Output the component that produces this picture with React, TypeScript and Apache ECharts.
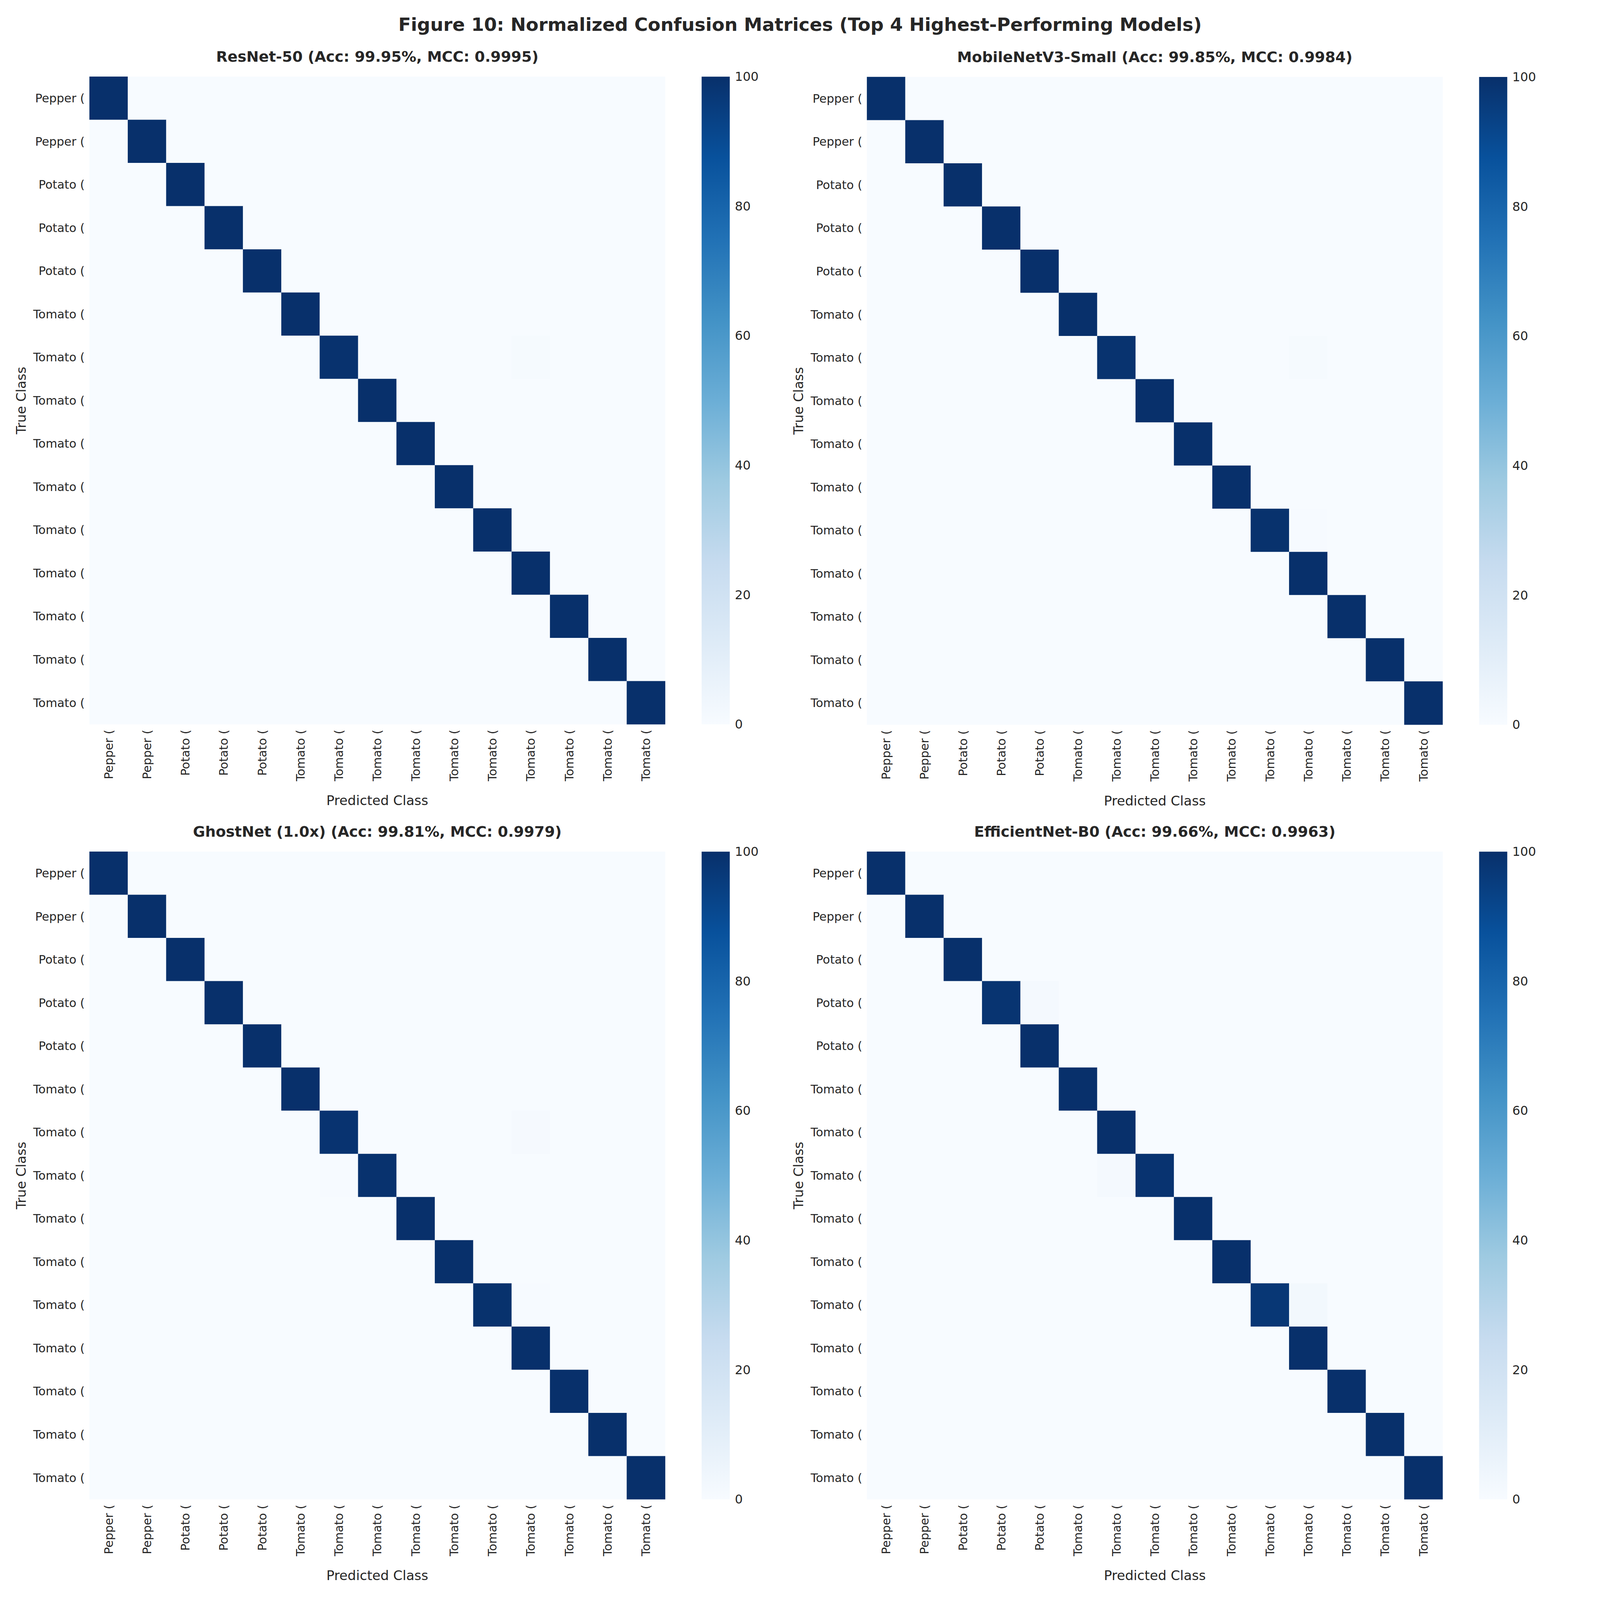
import { useEffect, useRef } from 'react'
import * as echarts from 'echarts'

const classLabels = [
  'Pepper (', 'Pepper (', 'Potato (', 'Potato (', 'Potato (',
  'Tomato (', 'Tomato (', 'Tomato (', 'Tomato (', 'Tomato (',
  'Tomato (', 'Tomato (', 'Tomato (', 'Tomato (', 'Tomato (',
]

const figureTitle = 'Figure 10: Normalized Confusion Matrices (Top 4 Highest-Performing Models)'

const modelTitles = [
  'ResNet-50 (Acc: 99.95%, MCC: 0.9995)',
  'MobileNetV3-Small (Acc: 99.85%, MCC: 0.9984)',
  'GhostNet (1.0x) (Acc: 99.81%, MCC: 0.9979)',
  'EfficientNet-B0 (Acc: 99.66%, MCC: 0.9963)',
]

// diagonal (per true class, %) and the visible off-diagonal cells [row, col, %]
const resnetDiag = [100, 100, 100, 100, 100, 100, 99.2, 100, 100, 100, 100, 100, 100, 100, 100]
const resnetOff: [number, number, number][] = [[6, 11, 0.8]]

const mobilenetDiag = [100, 100, 100, 100, 100, 100, 99.0, 100, 100, 100, 99.4, 100, 100, 100, 100]
const mobilenetOff: [number, number, number][] = [[6, 11, 1.0], [10, 11, 0.6]]

const ghostnetDiag = [100, 100, 100, 100, 100, 100, 98.8, 99.3, 100, 100, 99.4, 100, 100, 100, 100]
const ghostnetOff: [number, number, number][] = [[6, 11, 1.2], [7, 6, 0.7], [10, 11, 0.6]]

const efficientnetDiag = [100, 100, 100, 98.5, 100, 100, 100, 98.7, 100, 100, 97.5, 100, 100, 100, 100]
const efficientnetOff: [number, number, number][] = [[3, 4, 1.5], [7, 6, 1.3], [10, 11, 2.5]]

const blues = ['#f7fbff', '#deebf7', '#c6dbef', '#9ecae1', '#6baed6', '#4292c6', '#2171b5', '#08519c', '#08306b']

const ink = '#262626'
const font = 'DejaVu Sans'

function buildCells(diag: number[], off: [number, number, number][]) {
  const n = diag.length
  const cells: number[][] = []
  for (let r = 0; r < n; r++) {
    for (let c = 0; c < n; c++) cells.push([c, r, r === c ? diag[r] : 0])
  }
  off.forEach(([r, c, v]) => {
    cells[r * n + c][2] = v
  })
  return cells
}

const matrices = [
  buildCells(resnetDiag, resnetOff),
  buildCells(mobilenetDiag, mobilenetOff),
  buildCells(ghostnetDiag, ghostnetOff),
  buildCells(efficientnetDiag, efficientnetOff),
]

// layout in figure pixels (5400 x 4800), mapped onto the real viewport at run time
const FIG_W = 5400
const FIG_H = 4800
const SIZE = 1943
const CB_W = 95
const panels = [
  { left: 302, top: 230, cbLeft: 2368 },
  { left: 2926, top: 231, cbLeft: 4992 },
  { left: 302, top: 2555, cbLeft: 2368 },
  { left: 2926, top: 2555, cbLeft: 4992 },
]

export default function App() {
  const ref = useRef<HTMLDivElement | null>(null)

  useEffect(() => {
    const el = ref.current
    if (!el) return
    const sx = Math.min(window.innerWidth / FIG_W, 1)
    const sy = Math.min(window.innerHeight / FIG_H, 1)
    const X = (v: number) => v * sx
    const Y = (v: number) => v * sy
    const F = (v: number) => v * sx
    el.style.width = `${Math.floor(FIG_W * sx)}px`
    el.style.height = `${Math.floor(FIG_H * sy)}px`

    const chart = echarts.init(el, undefined, { renderer: 'svg' })

    const gradient = new echarts.graphic.LinearGradient(
      0, 1, 0, 0,
      blues.map((color, i) => ({ offset: i / (blues.length - 1), color }))
    )

    const grids: any[] = []
    const xAxes: any[] = []
    const yAxes: any[] = []
    const series: any[] = []
    const titles: any[] = [
      {
        text: figureTitle,
        left: X(2700),
        top: Y(73) - F(31),
        textAlign: 'center',
        padding: 0,
        textStyle: { fontFamily: font, fontSize: F(62), fontWeight: 'bold', color: ink },
      },
    ]

    panels.forEach((p, i) => {
      grids.push({ left: X(p.left), top: Y(p.top), width: X(SIZE), height: Y(SIZE) })
      xAxes.push({
        type: 'category',
        gridIndex: i,
        data: classLabels,
        position: 'bottom',
        name: 'Predicted Class',
        nameLocation: 'middle',
        nameGap: Y(229) - F(23),
        nameTextStyle: { fontFamily: font, fontSize: F(45), color: ink },
        axisLine: { show: false },
        axisTick: { show: false },
        splitLine: { show: false },
        axisLabel: { interval: 0, rotate: 90, margin: Y(16), fontFamily: font, fontSize: F(40), color: ink },
      })
      yAxes.push({
        type: 'category',
        gridIndex: i,
        data: classLabels,
        inverse: true,
        name: 'True Class',
        nameLocation: 'middle',
        nameGap: X(241) - F(32),
        nameTextStyle: { fontFamily: font, fontSize: F(45), color: ink },
        axisLine: { show: false },
        axisTick: { show: false },
        splitLine: { show: false },
        axisLabel: { interval: 0, margin: X(16), fontFamily: font, fontSize: F(40), color: ink },
      })
      series.push({
        type: 'heatmap',
        xAxisIndex: i,
        yAxisIndex: i,
        data: matrices[i],
        itemStyle: { borderWidth: 0 },
        silent: true,
      })
      titles.push({
        text: modelTitles[i],
        left: X(p.left + SIZE / 2),
        top: Y(p.top - 60) - F(25),
        textAlign: 'center',
        padding: 0,
        textStyle: { fontFamily: font, fontSize: F(50), fontWeight: 'bold', color: ink },
      })
    })

    // colorbars: one gradient bar per panel on a 0-100 value axis
    panels.forEach((p, i) => {
      const g = panels.length + i
      grids.push({ left: X(p.cbLeft), top: Y(p.top), width: X(CB_W), height: Y(SIZE) })
      xAxes.push({
        type: 'category',
        gridIndex: g,
        data: [''],
        show: false,
      })
      yAxes.push({
        type: 'value',
        gridIndex: g,
        position: 'right',
        min: 0,
        max: 100,
        interval: 20,
        axisLine: { show: false },
        axisTick: { show: false },
        splitLine: { show: false },
        axisLabel: { margin: X(17), fontFamily: font, fontSize: F(42), color: ink },
      })
      series.push({
        type: 'bar',
        xAxisIndex: g,
        yAxisIndex: g,
        data: [100],
        barWidth: '100%',
        itemStyle: { color: gradient },
        silent: true,
      })
    })

    chart.setOption({
      animation: false,
      backgroundColor: '#ffffff',
      textStyle: { fontFamily: font },
      title: titles,
      grid: grids,
      xAxis: xAxes,
      yAxis: yAxes,
      visualMap: {
        type: 'continuous',
        show: false,
        min: 0,
        max: 100,
        seriesIndex: [0, 1, 2, 3],
        inRange: { color: blues },
      },
      series,
    })

    return () => {
      chart.dispose()
    }
  }, [])

  return (
    <div
      ref={ref}
      style={{ position: 'absolute', left: 0, top: 0, width: FIG_W, height: FIG_H, background: '#ffffff' }}
    />
  )
}
